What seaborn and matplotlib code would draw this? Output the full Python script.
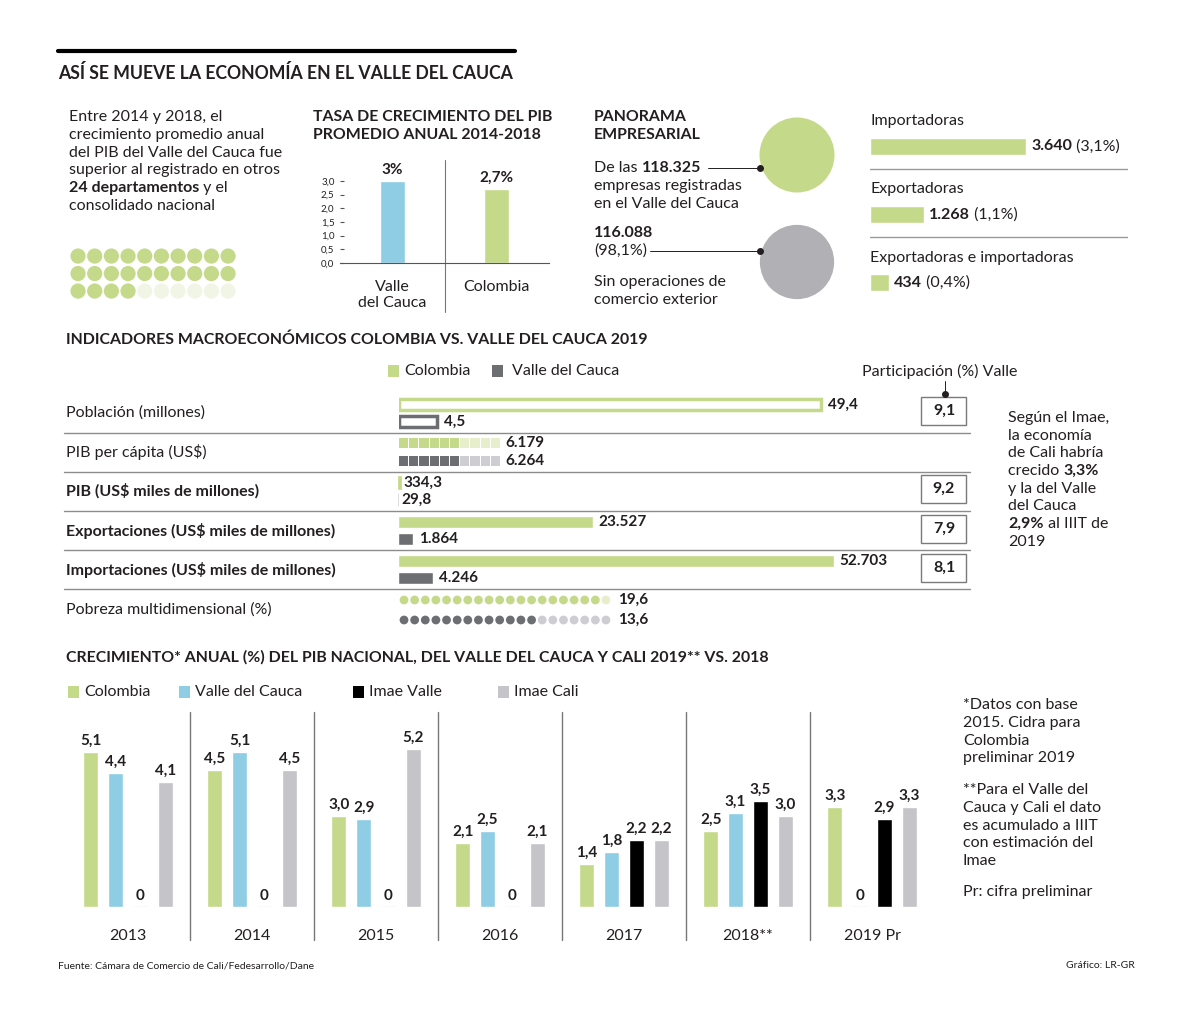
import numpy as np
import pandas as pd
import matplotlib
matplotlib.use("Agg")
import matplotlib.pyplot as plt
import seaborn as sns
from matplotlib.patches import Rectangle, Circle

# ---- data ----
dept_above = 24
dept_total = 30

pib_regions = ["Valle\ndel Cauca", "Colombia"]
pib_growth = [3.0, 2.7]
pib_growth_labels = ["3%", "2,7%"]

empresas_total = 118325
empresas_sin_ops = 116088
emp_cats = ["Importadoras", "Exportadoras", "Exportadoras e importadoras"]
emp_vals = [3640, 1268, 434]
emp_pct = [3.1, 1.1, 0.4]

macro_rows = ["Población (millones)", "PIB per cápita (US$)", "PIB (US$ miles de millones)",
              "Exportaciones (US$ miles de millones)", "Importaciones (US$ miles de millones)",
              "Pobreza multidimensional (%)"]
macro_bold = [False, False, True, True, True, False]
poblacion = [49.4, 4.5]
pib_pc = [6179, 6264]
pib_total = [334.3, 29.8]
exportaciones = [23527, 1864]
importaciones = [52703, 4246]
pobreza = [19.6, 13.6]
participacion = [9.1, None, 9.2, 7.9, 8.1, None]

years = ["2013", "2014", "2015", "2016", "2017", "2018**", "2019 Pr"]
series = ["Colombia", "Valle del Cauca", "Imae Valle", "Imae Cali"]
g_colombia = [5.1, 4.5, 3.0, 2.1, 1.4, 2.5, 3.3]
g_valle = [4.4, 5.1, 2.9, 2.5, 1.8, 3.1, 0]
g_imae_valle = [0, 0, 0, 0, 2.2, 3.5, 2.9]
g_imae_cali = [4.1, 4.5, 5.2, 2.1, 2.2, 3.0, 3.3]

GREEN = "#c5d98a"
GREEN_LIGHT = "#e6eecb"
BLUE = "#8ecde4"
DARK = "#6d6e71"
GRAY = "#c4c4c9"
GRAY_LIGHT = "#cdcdd2"
INK = "#231f20"
RULE = "#8c8c8c"

W, H = 1200, 1022
BODY = 11.5
VAL = 11
HEAD = 11.4


def fmt_dec(v):
    return f"{v:.1f}".replace(".", ",")


def fmt_int(v):
    return f"{v:,}".replace(",", ".")


sns.set_theme(style="white")
plt.rcParams["font.family"] = ["Lato", "DejaVu Sans"]

fig = plt.figure(figsize=(W / 100, H / 100), dpi=100)
bg = fig.add_axes([0, 0, 1, 1])
bg.set_xlim(0, W)
bg.set_ylim(H, 0)
bg.axis("off")
renderer = fig.canvas.get_renderer()


def px_axes(left, top, width, height):
    ax = fig.add_axes([left / W, 1 - (top + height) / H, width / W, height / H])
    ax.set_facecolor("none")
    return ax


def txt(x, y, s, size=BODY, weight="normal", color=INK, ha="left", va="center"):
    return bg.text(x, y, s, fontsize=size, fontweight=weight, color=color, ha=ha, va=va)


def rich(x, y, parts, size=BODY):
    for s, w in parts:
        t = txt(x, y, s, size=size, weight=w)
        x += t.get_window_extent(renderer).width


def to_bg(ax, x, y):
    dx, dy = ax.transData.transform((x, y))
    return dx, H - dy


# ---- header ----
bg.plot([58, 515], [51, 51], color="black", lw=3)
txt(58, 73, "ASÍ SE MUEVE LA ECONOMÍA EN EL VALLE DEL CAUCA", size=12.7, weight="bold")

intro = ["Entre 2014 y 2018, el", "crecimiento promedio anual", "del PIB del Valle del Cauca fue",
         "superior al registrado en otros"]
for i, line in enumerate(intro):
    txt(69, 117 + i * 17.8, line)
rich(69, 188, [(f"{dept_above} departamentos", "bold"), (" y el", "normal")])
txt(69, 206, "consolidado nacional")

# dots grid
ax = px_axes(69.7, 247.3, 166.7, 52.5)
idx = np.arange(dept_total)
ax.scatter(idx % 10, idx // 10, s=120, linewidths=0,
           c=[GREEN if k < dept_above else "#f1f5e6" for k in idx])
ax.set_xlim(-0.5, 9.5)
ax.set_ylim(2.5, -0.5)
ax.axis("off")

# ---- small PIB chart ----
txt(313, 117, "TASA DE CRECIMIENTO DEL PIB", size=HEAD, weight="bold")
txt(313, 135, "PROMEDIO ANUAL 2014-2018", size=HEAD, weight="bold")
ax = px_axes(340, 181, 209, 82)
sns.barplot(x=pib_regions, y=pib_growth, hue=pib_regions, palette=[BLUE, GREEN],
            width=0.24, saturation=1, legend=False, ax=ax)
ax.set_xlim(-0.5, 1.5)
ax.set_ylim(0, 3)
ax.set_yticks(np.arange(0, 3.01, 0.5))
ax.set_yticklabels([fmt_dec(v) for v in np.arange(0, 3.01, 0.5)], fontsize=7, color=INK)
ax.tick_params(axis="y", left=True, direction="in", length=3, width=0.8, color="#555", pad=4)
ax.tick_params(axis="x", length=0, pad=12, labelsize=BODY, labelcolor=INK)
for s in ["top", "right", "left"]:
    ax.spines[s].set_visible(False)
ax.spines["bottom"].set_color("#555")
ax.spines["bottom"].set_linewidth(0.8)
ax.axvline(0.5, ymin=-0.6, ymax=1.26, clip_on=False, color="#777", lw=0.8)
for i, (v, lab) in enumerate(zip(pib_growth, pib_growth_labels)):
    ax.annotate(lab, (i, v), xytext=(0, 3), textcoords="offset points", ha="center",
                va="bottom", fontsize=VAL, fontweight="bold", color=INK, annotation_clip=False)

# ---- panorama empresarial ----
txt(594, 117, "PANORAMA", size=HEAD, weight="bold")
txt(594, 135, "EMPRESARIAL", size=HEAD, weight="bold")
rich(594, 168, [("De las ", "normal"), (fmt_int(empresas_total), "bold")])
txt(594, 186, "empresas registradas")
txt(594, 204, "en el Valle del Cauca")
txt(594, 233, fmt_int(empresas_sin_ops), weight="bold")
txt(594, 251, f"({fmt_dec(empresas_sin_ops / empresas_total * 100)}%)")
txt(594, 282, "Sin operaciones de")
txt(594, 300, "comercio exterior")
r0 = 37.5
bg.add_patch(Circle((797, 155), r0, color=GREEN, lw=0))
bg.add_patch(Circle((797, 262), r0 * np.sqrt(empresas_sin_ops / empresas_total), color="#b1b1b5", lw=0))
bg.plot([708, 760], [168, 168], color=INK, lw=0.7)
bg.plot([650, 760], [251, 251], color=INK, lw=0.7)
bg.plot([760, 760], [168, 251], "o", color=INK, ms=4)

ax = px_axes(870, 112, 258, 205)
sns.barplot(x=emp_vals, y=emp_cats, orient="h", color=GREEN, saturation=1, width=0.25, ax=ax)
ax.set_xlim(0, 6020)
ax.set_ylim(2.5, -0.5)
ax.axis("off")
for i, (c, v, p) in enumerate(zip(emp_cats, emp_vals, emp_pct)):
    ax.text(0, i - 0.37, c, va="center", ha="left", fontsize=BODY, color=INK)
    x, y = to_bg(ax, v, i)
    rich(x + 5, y, [(fmt_int(v), "bold"), (f" ({fmt_dec(p)}%)", "normal")])
for i in range(2):
    ax.axhline(i + 0.33, color="#9a9a9a", lw=1)

# ---- indicadores macro ----
txt(66, 340, "INDICADORES MACROECONÓMICOS COLOMBIA VS. VALLE DEL CAUCA 2019", size=HEAD, weight="bold")
bg.add_patch(Rectangle((388, 365), 11, 12, color=GREEN, lw=0))
txt(404, 371, "Colombia")
bg.add_patch(Rectangle((492, 365), 11, 12, color=DARK, lw=0))
txt(512, 371, "Valle del Cauca")
txt(862, 371, "Participación (%) Valle")
bg.plot([945, 945], [381, 393], color=INK, lw=0.7)
bg.plot([945], [394], "o", color=INK, ms=4)

row_y = [413, 452, 491, 531, 570, 610]
for y, lab, b in zip(row_y, macro_rows, macro_bold):
    txt(66, y, lab, weight="bold" if b else "normal")
for y in [433, 472, 511, 550, 589]:
    bg.plot([64, 970], [y, y], color=RULE, lw=1)
for y, p in zip(row_y, participacion):
    if p is None:
        continue
    bg.add_patch(Rectangle((921, y - 16), 45, 28, fill=False, ec="#7a7a7a", lw=1))
    txt(944, y - 2, fmt_dec(p), weight="bold", ha="center")

side = [("Según el Imae,",), ("la economía",), ("de Cali habría",), ("crecido ", "3,3%"),
        ("y la del Valle",), ("del Cauca",), ("", "2,9%", " al IIIT de"), ("2019",)]
for i, parts in enumerate(side):
    y = 418 + i * 17.7
    if len(parts) == 1:
        txt(1008, y, parts[0])
    elif len(parts) == 2:
        rich(1008, y, [(parts[0], "normal"), (parts[1], "bold")])
    else:
        rich(1008, y, [(parts[1], "bold"), (parts[2], "normal")])

pair = ["Colombia", "Valle del Cauca"]


def label_bars(ax, vals, texts, dx=5):
    for i, (v, t) in enumerate(zip(vals, texts)):
        ax.annotate(t, (v, i), xytext=(dx, 0), textcoords="offset points", ha="left",
                    va="center", fontsize=VAL, fontweight="bold", color=INK, annotation_clip=False)


# poblacion
ax = px_axes(399, 396, 502, 34)
sns.barplot(x=poblacion, y=pair, hue=pair, palette=[GREEN, DARK], fill=False, linewidth=2.5,
            width=0.6, orient="h", legend=False, ax=ax)
ax.set_xlim(0, 502 / 422 * 49.4)
ax.axis("off")
label_bars(ax, poblacion, [fmt_dec(v) for v in poblacion], dx=5)

# pib per capita (cells of 1.000 US$)
ax = px_axes(399, 434, 102, 36)
for r, (v, full, light) in enumerate(zip(pib_pc, [GREEN, DARK], [GREEN_LIGHT, GRAY_LIGHT])):
    n = int(v // 1000)
    ax.barh([r] * 10, [0.9] * 10, left=np.arange(10), height=0.6,
            color=[full if k < n else light for k in range(10)], lw=0)
ax.set_xlim(0, 10)
ax.set_ylim(1.5, -0.5)
ax.axis("off")
label_bars(ax, [10, 10], [fmt_int(v) for v in pib_pc], dx=3)

# pib total
ax = px_axes(398, 474, 100, 34)
ax.barh([0, 1], pib_total, height=0.75, color=[GREEN, GRAY_LIGHT], edgecolor=[GREEN, GRAY_LIGHT], lw=0.5)
ax.set_xlim(0, 11000)
ax.set_ylim(1.5, -0.5)
ax.axis("off")
label_bars(ax, pib_total, [fmt_dec(v) for v in pib_total], dx=2)

# exportaciones / importaciones
for top, vals in [(514, exportaciones), (553, importaciones)]:
    ax = px_axes(398, top, 502, 33)
    sns.barplot(x=vals, y=pair, hue=pair, palette=[GREEN, DARK], saturation=1,
                width=0.7, orient="h", legend=False, ax=ax)
    ax.set_xlim(0, 60700)
    ax.axis("off")
    label_bars(ax, vals, [fmt_int(v) for v in vals], dx=4)

# pobreza (one dot per point)
ax = px_axes(398.7, 590, 212.6, 40)
for r, (v, full, light) in enumerate(zip(pobreza, [GREEN, DARK], [GREEN_LIGHT, GRAY_LIGHT])):
    k = np.arange(1, 21)
    ax.scatter(k, [r] * 20, s=40, linewidths=0, c=[full if j <= int(v) else light for j in k])
ax.set_xlim(0.5, 20.5)
ax.set_ylim(1.5, -0.5)
ax.axis("off")
label_bars(ax, [20, 20], [fmt_dec(v) for v in pobreza], dx=9)

# ---- crecimiento anual ----
txt(66, 657, "CRECIMIENTO* ANUAL (%) DEL PIB NACIONAL, DEL VALLE DEL CAUCA Y CALI 2019** VS. 2018",
    size=HEAD, weight="bold")
pal = [GREEN, BLUE, "#000000", GRAY]
for x0, xt, name, col in zip([68, 179, 353, 498], [84, 195, 369, 514], series, pal):
    bg.add_patch(Rectangle((x0, 686), 11, 12, color=col, lw=0))
    txt(xt, 692, name)

df = pd.DataFrame({
    "year": years * 4,
    "serie": np.repeat(series, len(years)),
    "value": g_colombia + g_valle + g_imae_valle + g_imae_cali,
})
ax = px_axes(66, 712, 868, 195)
sns.barplot(data=df, x="year", y="value", hue="serie", palette=pal, width=0.8, gap=0.4,
            saturation=1, legend=False, ax=ax)
ax.set_xlim(-0.5, 6.5)
ax.set_ylim(0, 195 / 30.4)
ax.set_xlabel("")
ax.set_ylabel("")
ax.set_yticks([])
ax.tick_params(axis="x", length=0, pad=16, labelsize=BODY, labelcolor=INK)
for s in ax.spines.values():
    s.set_visible(False)
for i in range(len(years) - 1):
    ax.axvline(i + 0.5, ymin=-33 / 195, ymax=1, clip_on=False, color="#777", lw=1)
for cont, vals, col in zip(ax.containers, [g_colombia, g_valle, g_imae_valle, g_imae_cali], pal):
    ax.bar_label(cont, labels=["0" if v == 0 else fmt_dec(v) for v in vals], padding=3,
                 fontsize=VAL, fontweight="bold", color=INK)
    # zero values still show a hairline at the baseline
    for bar, v in zip(cont, vals):
        if v == 0:
            bar.set_edgecolor("#e3e3e6")
            bar.set_linewidth(1)

notes = ["*Datos con base", "2015. Cidra para", "Colombia", "preliminar 2019"]
for i, line in enumerate(notes):
    txt(963, 705 + i * 17.8, line)
notes2 = ["**Para el Valle del", "Cauca y Cali el dato", "es acumulado a IIIT",
          "con estimación del", "Imae"]
for i, line in enumerate(notes2):
    txt(963, 790 + i * 17.8, line)
txt(963, 892, "Pr: cifra preliminar")

txt(58, 966, "Fuente: Cámara de Comercio de Cali/Fedesarrollo/Dane", size=7.5)
txt(1135, 966, "Gráfico: LR-GR", size=7.5, ha="right")

fig.savefig("out.png", dpi=100, facecolor="white")
